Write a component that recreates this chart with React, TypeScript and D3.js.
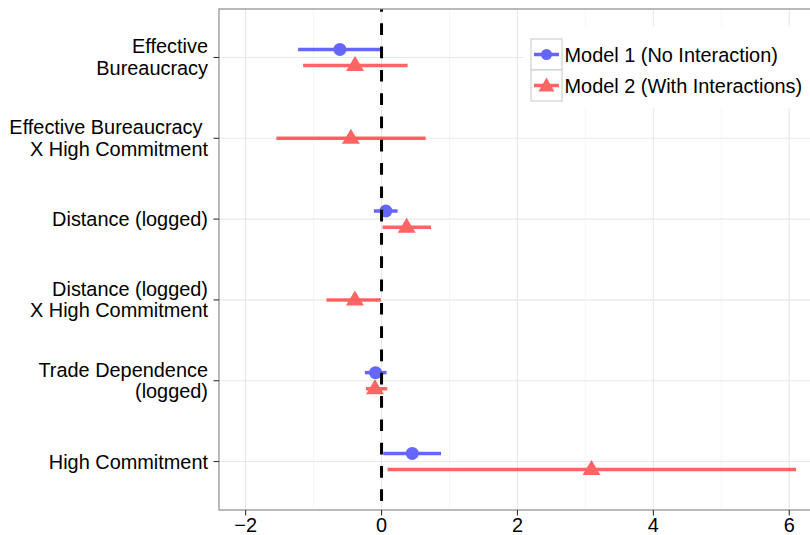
import React from "react";
import * as d3 from "d3";

const categories = [
  "Effective\nBureaucracy",
  "Effective Bureaucracy \nX High Commitment",
  "Distance (logged)",
  "Distance (logged)\nX High Commitment",
  "Trade Dependence\n(logged)",
  "High Commitment",
];

const m1Est = [-0.613, null, 0.064, null, -0.088, 0.452];
const m1Lo = [-1.228, null, -0.112, null, -0.245, 0.025];
const m1Hi = [-0.01, null, 0.236, null, 0.074, 0.875];

const m2Est = [-0.39, -0.451, 0.369, -0.392, -0.097, 3.09];
const m2Lo = [-1.154, -1.548, 0.015, -0.81, -0.23, 0.088];
const m2Hi = [0.383, 0.649, 0.728, -0.01, 0.084, 6.1];

const xTicks = [-2, 0, 2, 4, 6];
const xMinor = [-1, 1, 3, 5];
const seriesNames = ["Model 1 (No Interaction)", "Model 2 (With Interactions)"];

const W = 810;
const H = 535;
const P = { left: 219, right: 811, top: 9, bottom: 510 };
const FONT = "'Liberation Sans', Arial, Helvetica, sans-serif";
const FS = 19.9;

function tri(cx: number, cy: number, hw: number, up: number, down: number) {
  return `M${cx},${cy - up}L${cx + hw},${cy + down}L${cx - hw},${cy + down}Z`;
}

export default function App() {
  const x = d3.scaleLinear().domain([-2.392, 6.32]).range([P.left, P.right]);
  const y = d3
    .scalePoint<string>()
    .domain(categories)
    .range([P.top, P.bottom])
    .padding(0.6);
  const step = y.step();
  const dodge = step * 0.1;

  const rows = categories.map((c, i) => {
    const both = m1Est[i] != null && m2Est[i] != null;
    return {
      c,
      y0: y(c) as number,
      m1:
        m1Est[i] == null
          ? null
          : { est: m1Est[i] as number, lo: m1Lo[i] as number, hi: m1Hi[i] as number, y: (y(c) as number) - (both ? dodge : 0) },
      m2:
        m2Est[i] == null
          ? null
          : { est: m2Est[i] as number, lo: m2Lo[i] as number, hi: m2Hi[i] as number, y: (y(c) as number) + (both ? dodge : 0) },
    };
  });

  const blue = "#0000ff";
  const red = "#ff0000";
  const alpha = 0.6;

  const legX = 531;
  const legY = 39;
  const keyW = 31;
  const keyH = 31;

  return (
    <svg
      width={W}
      height={H}
      style={{ position: "absolute", left: 0, top: 0, background: "#fff" }}
      fontFamily={FONT}
    >
      <rect x={0} y={0} width={W} height={H} fill="#fff" />
      {xMinor.map((t) => (
        <line key={"mn" + t} x1={x(t)} x2={x(t)} y1={P.top} y2={P.bottom} stroke="#f4f4f4" strokeWidth={0.8} />
      ))}
      {xTicks.map((t) => (
        <line key={"mj" + t} x1={x(t)} x2={x(t)} y1={P.top} y2={P.bottom} stroke="#e8e8e8" strokeWidth={1.1} />
      ))}
      {categories.map((c) => (
        <line key={"hg" + c} x1={P.left} x2={P.right} y1={y(c)} y2={y(c)} stroke="#e8e8e8" strokeWidth={1.1} />
      ))}

      <g opacity={alpha}>
        {rows.map((r) =>
          r.m1 ? (
            <g key={"a" + r.c}>
              <line x1={x(r.m1.lo)} x2={x(r.m1.hi)} y1={r.m1.y} y2={r.m1.y} stroke={blue} strokeWidth={3.5} />
              <circle cx={x(r.m1.est)} cy={r.m1.y} r={6.5} fill={blue} />
            </g>
          ) : null
        )}
      </g>
      <g opacity={alpha}>
        {rows.map((r) =>
          r.m2 ? (
            <g key={"b" + r.c}>
              <line x1={x(r.m2.lo)} x2={x(r.m2.hi)} y1={r.m2.y} y2={r.m2.y} stroke={red} strokeWidth={3.5} />
              <path d={tri(x(r.m2.est), r.m2.y, 9, 9.5, 5.5)} fill={red} />
            </g>
          ) : null
        )}
      </g>

      <line
        x1={x(0)}
        x2={x(0)}
        y1={P.top}
        y2={P.bottom}
        stroke="#000"
        strokeWidth={3}
        strokeDasharray="11.7,11.6"
        strokeDashoffset={9}
      />

      <rect
        x={P.left}
        y={P.top}
        width={P.right - P.left}
        height={P.bottom - P.top}
        fill="none"
        stroke="#8c8c8c"
        strokeWidth={1.2}
      />

      {categories.map((c) => {
        const yy = y(c) as number;
        const lines = c.split("\n");
        return (
          <g key={"yl" + c}>
            <line x1={P.left - 5.5} x2={P.left} y1={yy} y2={yy} stroke="#333" strokeWidth={1.1} />
            {lines.length === 1 ? (
              <text x={208} y={yy + 7} textAnchor="end" fontSize={FS} fill="#000" style={{ whiteSpace: "pre" }}>
                {lines[0]}
              </text>
            ) : (
              lines.map((l, k) => (
                <text
                  key={k}
                  x={208}
                  y={yy - 4 + k * 21.5}
                  textAnchor="end"
                  fontSize={FS}
                  fill="#000"
                  style={{ whiteSpace: "pre" }}
                >
                  {l}
                </text>
              ))
            )}
          </g>
        );
      })}

      {xTicks.map((t) => (
        <g key={"xt" + t}>
          <line x1={x(t)} x2={x(t)} y1={P.bottom} y2={P.bottom + 5.5} stroke="#333" strokeWidth={1.1} />
          <text x={x(t)} y={532} textAnchor="middle" fontSize={FS} fill="#000">
            {t < 0 ? "\u2212" + Math.abs(t) : String(t)}
          </text>
        </g>
      ))}

      <rect x={524} y={27} width={300} height={81} fill="#fff" />
      {seriesNames.map((s, i) => {
        const ky = legY + i * keyH;
        const cy = ky + keyH / 2;
        const col = i === 0 ? blue : red;
        return (
          <g key={"lg" + s}>
            <rect x={legX} y={ky} width={keyW} height={keyH} fill="#fff" stroke="#cccccc" strokeWidth={1.1} />
            <g opacity={alpha}>
              <line x1={legX + 3} x2={legX + keyW - 3} y1={cy} y2={cy} stroke={col} strokeWidth={3.5} />
              {i === 0 ? (
                <circle cx={legX + keyW / 2} cy={cy} r={5.5} fill={col} />
              ) : (
                <path d={tri(legX + keyW / 2, cy + 1, 8, 9, 5)} fill={col} />
              )}
            </g>
            <text x={564.5} y={cy + 7.5} fontSize={FS} fill="#000">
              {s}
            </text>
          </g>
        );
      })}
    </svg>
  );
}
